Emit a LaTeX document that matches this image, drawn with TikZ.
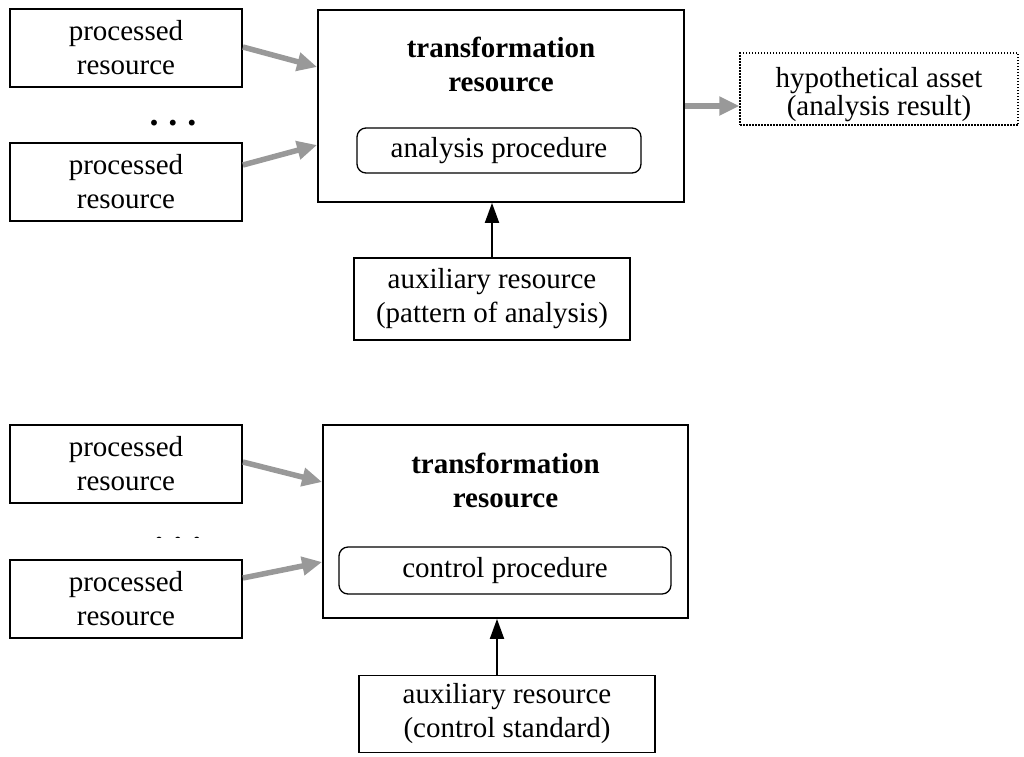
\documentclass[tikz,border=0pt]{standalone}
\usepackage{fontspec}
\setmainfont{Liberation Serif}
\usetikzlibrary{arrows.meta}

\tikzset{
  resbox/.style={draw, line width=1.8pt, align=center, inner sep=0pt},
  procbox/.style={draw, line width=1.3pt, rounded corners=9pt, align=center, inner sep=0pt},
  feed/.style={-{Triangle[length=20pt,width=18pt]}, line width=5.5pt, draw=black!40},
  aux/.style={-{Triangle[length=20pt,width=14pt]}, line width=2pt},
  etc/.style={font=\fontsize{36}{36}\selectfont\bfseries},
}

\begin{document}
\begin{tikzpicture}[x=1pt, y=-1pt, font=\fontsize{29}{34}\selectfont]
    \useasboundingbox (0,0) rectangle (1024,756);

    % analysis
    \node (pr1) at (126,48) [resbox, minimum width=232pt, minimum height=78pt] {processed\\resource};
    \node (dots1) at (173,123) [etc] {.\hspace{10pt}.\hspace{10pt}.};
    \node (pr2) at (126,182) [resbox, minimum width=232pt, minimum height=78pt] {processed\\resource};

    \node (tr1) at (501,106) [resbox, minimum width=366pt, minimum height=192pt] {};
    \node (title1) at (501,64) [align=center] {\textbf{transformation}\\\textbf{resource}};
    \node (ap1) at (499,150.5) [procbox, minimum width=284pt, minimum height=45pt] {analysis procedure};

    \node (aux1) at (492,299) [resbox, minimum width=276pt, minimum height=82pt] {auxiliary resource\\(pattern of analysis)};
    \node (hyp) at (879,89) [draw, line width=1.3pt, dash pattern=on 1.5pt off 1.5pt,
        minimum width=278pt, minimum height=72pt] {};
    \node (hyptext) at (879,95) [align=center, font=\fontsize{29}{28}\selectfont] {hypothetical asset\\(analysis result)};

    \draw [feed] ([yshift=1pt]pr1.east) -- ([yshift=39pt]tr1.west);
    \draw [feed] ([yshift=17pt]pr2.east) -- ([yshift=-39pt]tr1.west);
    \draw [feed] (tr1.east) -- (tr1.east -| hyp.west);
    \draw [aux] (aux1.north) -- (aux1.north |- tr1.south);

    % control
    \node (pr3) at (126,464) [resbox, minimum width=232pt, minimum height=78pt] {processed\\resource};
    \begin{scope}
        \clip (140,520) rectangle (215,537.5);
        \node (dots2) at (178,540) [etc] {.\hspace{10pt}.\hspace{10pt}.};
    \end{scope}
    \node (pr4) at (126,599) [resbox, minimum width=232pt, minimum height=78pt] {processed\\resource};

    \node (tr2) at (505.5,521.5) [resbox, minimum width=365pt, minimum height=193pt] {};
    \node (title2) at (505.5,480) [align=center] {\textbf{transformation}\\\textbf{resource}};
    \node (cp2) at (505,570.5) [procbox, minimum width=332pt, minimum height=47pt] {control procedure};

    \node (aux2) at (507,714) [resbox, minimum width=296pt, minimum height=77pt] {auxiliary resource\\(control standard)};

    \draw [feed] ([yshift=2pt]pr3.east) -- ([yshift=39.5pt]tr2.west);
    \draw [feed] ([yshift=21pt]pr4.east) -- ([yshift=-40.5pt]tr2.west);
    \draw [aux] ([xshift=-10pt]aux2.north) -- ([xshift=-10pt]aux2.north |- tr2.south);
\end{tikzpicture}
\end{document}
